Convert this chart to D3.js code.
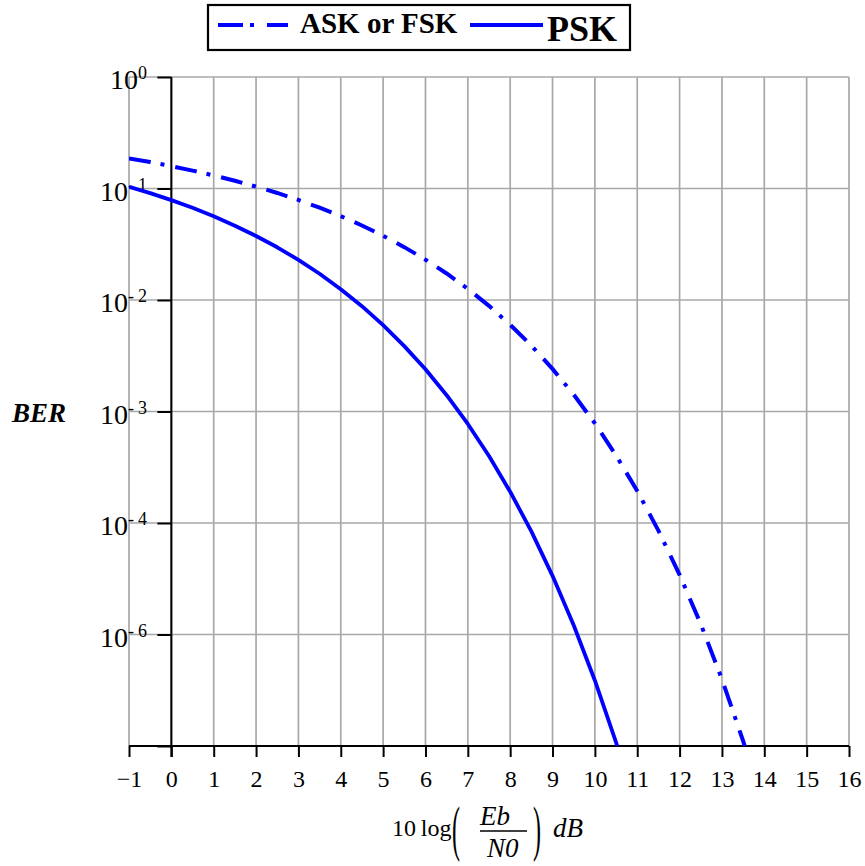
<!DOCTYPE html>
<html>
<head>
<meta charset="utf-8">
<script src="https://cdn.jsdelivr.net/npm/d3@7/dist/d3.min.js"></script>
<style>
  html, body { margin: 0; padding: 0; background: #fff; }
  svg { display: block; }
  text { font-family: "Liberation Serif", "Times New Roman", serif; fill: #000; }
</style>
</head>
<body>
<svg id="chart" width="865" height="866"></svg>
<script>
// Eb/N0 in dB and bit error rate for each modulation
const pskDb = [-1, -0.5, 0, 0.5, 1, 1.5, 2, 2.5, 3, 3.5, 4, 4.5, 5, 5.5, 6, 6.5, 7, 7.5, 8, 8.5, 9, 9.5, 10, 10.5, 11];
const pskBer = [0.1038, 0.0909, 0.0786, 0.0671, 0.0563, 0.0464, 0.0375, 0.0297, 0.0229, 0.0172, 0.0125, 0.0088,
  0.00595, 0.00386, 0.00239, 0.0014, 0.000773, 0.000399, 0.000191, 8.4e-5, 3.36e-5, 1.21e-5, 3.87e-6, 1.08e-6, 2.6e-7];

const askDb = [-1, -0.5, 0, 0.5, 1, 1.5, 2, 2.5, 3, 3.5, 4, 4.5, 5, 5.5, 6, 6.5, 7, 7.5, 8, 8.5, 9, 9.5, 10, 10.5,
  11, 11.5, 12, 12.5, 13, 13.5, 14];
const askBer = [0.1864, 0.1726, 0.1587, 0.1447, 0.1309, 0.1173, 0.104, 0.0912, 0.0789, 0.0673, 0.0565, 0.0466,
  0.0377, 0.0298, 0.023, 0.0173, 0.0126, 0.00886, 0.006, 0.0039, 0.00241, 0.00142, 0.000783, 0.000404,
  0.000194, 8.56e-5, 3.43e-5, 1.24e-5, 3.97e-6, 1.11e-6, 2.7e-7];

// axis ticks
const xTicks = d3.range(-1, 17);
const yTicks = [1, 1e-1, 1e-2, 1e-3, 1e-4, 1e-5];
const yTickExponents = ["0", "-1", "-2", "-3", "-4", "-6"];

const seriesNames = ["ASK or FSK", "PSK"];

const svg = d3.select("#chart");
const blue = "#0000ff";
const grid = "#a8a8a8";

const x = d3.scaleLinear().domain([-1, 16]).range([129, 849]);
const y = d3.scaleLog().domain([1, 1e-6]).range([77, 746]);

// grid
const g = svg.append("g");
g.selectAll(".vgrid").data(xTicks).join("line")
  .attr("x1", d => x(d)).attr("x2", d => x(d))
  .attr("y1", y(1)).attr("y2", y(1e-6))
  .attr("stroke", grid).attr("stroke-width", 1.7);
g.selectAll(".hgrid").data(yTicks).join("line")
  .attr("x1", x(-1)).attr("x2", x(16))
  .attr("y1", d => y(d)).attr("y2", d => y(d))
  .attr("stroke", grid).attr("stroke-width", 1.7);

// axes
const xAxis = d3.axisBottom(x).tickValues(xTicks).tickSize(11).tickPadding(4)
  .tickFormat(d => d < 0 ? "\u2212" + Math.abs(d) : String(d));
const xg = svg.append("g").attr("transform", `translate(0,${y(1e-6)})`).call(xAxis);
xg.select(".domain").attr("stroke", "#000").attr("stroke-width", 2).attr("d", `M${x(-1)},0H${x(16)}`);
xg.selectAll(".tick line").attr("stroke", "#000").attr("stroke-width", 2);
xg.selectAll(".tick text").attr("font-family", "Liberation Serif").attr("font-size", 24).attr("fill", "#000")
  .attr("dy", "1.08em");

const yAxis = d3.axisLeft(y).tickValues(yTicks.concat([1e-6])).tickSize(14).tickFormat("");
const yg = svg.append("g").attr("transform", `translate(${x(0)},0)`).call(yAxis);
yg.select(".domain").attr("stroke", "#000").attr("stroke-width", 2).attr("d", `M0,${y(1)}V${y(1e-6) + 11}`);
yg.selectAll(".tick line").attr("stroke", "#000").attr("stroke-width", 2);

// y tick labels: 10 with superscript exponent
const yl = svg.append("g").selectAll("text").data(yTicks).join("text")
  .attr("x", 147).attr("y", d => y(d) + 12)
  .attr("text-anchor", "end").attr("font-size", 28);
yl.append("tspan").text("10");
yl.each(function (d, i) {
  const e = yTickExponents[i];
  const t = d3.select(this);
  if (e.startsWith("-")) {
    t.append("tspan").attr("dy", -10).attr("font-size", 18).text("-");
    t.append("tspan").attr("dx", 4).attr("font-size", 18).text(e.slice(1));
  } else {
    t.append("tspan").attr("dy", -10).attr("font-size", 18).text(e);
  }
});

// curves
const clip = svg.append("clipPath").attr("id", "plotArea").append("rect")
  .attr("x", x(-1)).attr("y", y(1)).attr("width", x(16) - x(-1)).attr("height", y(1e-6) - y(1));

const line = d3.line().x(d => x(d[0])).y(d => y(d[1]));
const curves = svg.append("g").attr("clip-path", "url(#plotArea)");
curves.append("path")
  .datum(askDb.map((d, i) => [d, askBer[i]]))
  .attr("d", line).attr("fill", "none").attr("stroke", blue).attr("stroke-width", 4)
  .attr("stroke-dasharray", "22,10,4,11");
curves.append("path")
  .datum(pskDb.map((d, i) => [d, pskBer[i]]))
  .attr("d", line).attr("fill", "none").attr("stroke", blue).attr("stroke-width", 3.8)
  .attr("stroke-linejoin", "round");

// legend
const lg = svg.append("g");
lg.append("rect").attr("x", 208).attr("y", 5).attr("width", 422).attr("height", 45)
  .attr("fill", "#fff").attr("stroke", "#000").attr("stroke-width", 2.2);
lg.append("line").attr("x1", 218).attr("x2", 288).attr("y1", 25).attr("y2", 25)
  .attr("stroke", blue).attr("stroke-width", 4).attr("stroke-dasharray", "25,7,4,13");
lg.append("text").attr("x", 300).attr("y", 33).attr("font-size", 29).attr("font-weight", "bold")
  .text(seriesNames[0]);
lg.append("line").attr("x1", 470).attr("x2", 543).attr("y1", 25).attr("y2", 25)
  .attr("stroke", blue).attr("stroke-width", 4);
lg.append("text").attr("x", 547).attr("y", 41).attr("font-size", 36).attr("font-weight", "bold")
  .text(seriesNames[1]);

// axis titles
svg.append("text").attr("x", 12).attr("y", 422).attr("font-size", 27)
  .attr("font-weight", "bold").attr("font-style", "italic").text("BER");

const xt = svg.append("g");
xt.append("text").attr("x", 392).attr("y", 836).attr("font-size", 24).text("10\u2009log");
xt.append("text").attr("transform", "translate(452,849) scale(1,2.55)")
  .attr("font-size", 24).text("(");
xt.append("text").attr("x", 480).attr("y", 825).attr("font-size", 27).attr("font-style", "italic").text("Eb");
xt.append("line").attr("x1", 480).attr("x2", 527).attr("y1", 831).attr("y2", 831)
  .attr("stroke", "#000").attr("stroke-width", 1.5);
xt.append("text").attr("x", 487).attr("y", 857).attr("font-size", 27).attr("font-style", "italic").text("N0");
xt.append("text").attr("transform", "translate(533,849) scale(1,2.55)")
  .attr("font-size", 24).text(")");
xt.append("text").attr("x", 553).attr("y", 837).attr("font-size", 27).attr("font-style", "italic").text("dB");
</script>
</body>
</html>
